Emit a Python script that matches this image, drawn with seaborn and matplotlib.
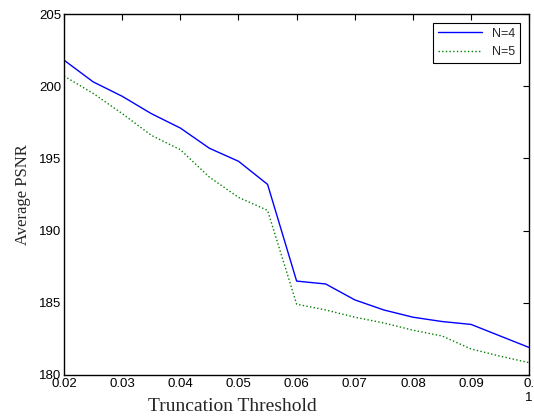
import numpy as np
import pandas as pd
import matplotlib
matplotlib.use("Agg")
import matplotlib.pyplot as plt
import seaborn as sns

# truncation thresholds and average PSNR
thresholds = [0.02, 0.025, 0.03, 0.035, 0.04, 0.045, 0.05, 0.055, 0.06,
              0.065, 0.07, 0.075, 0.08, 0.085, 0.09, 0.095, 0.1]
psnr_n4 = [201.8, 200.3, 199.3, 198.1, 197.1, 195.7, 194.8, 193.2, 186.5,
           186.3, 185.2, 184.5, 184.0, 183.7, 183.5, 182.7, 181.9]
psnr_n5 = [200.7, 199.5, 198.1, 196.6, 195.6, 193.7, 192.3, 191.4, 184.9,
           184.5, 184.0, 183.6, 183.1, 182.7, 181.8, 181.3, 180.85]
x_ticks = [0.02, 0.03, 0.04, 0.05, 0.06, 0.07, 0.08, 0.09, 0.1]
x_tick_labels = ["0.02", "0.03", "0.04", "0.05", "0.06", "0.07", "0.08", "0.09", "0.\n1"]
y_ticks = [180, 185, 190, 195, 200, 205]

sns.set_style("white")
plt.rcParams['font.family'] = ['Liberation Sans', 'DejaVu Sans']

fig = plt.figure(figsize=(5.34, 4.18), dpi=100)
ax = fig.add_axes([0.12, 0.103, 0.871, 0.8635])

sns.lineplot(x=thresholds, y=psnr_n4, ax=ax, color='#0000ff', linewidth=1.0,
             label='N=4')
sns.lineplot(x=thresholds, y=psnr_n5, ax=ax, color='#008000', linewidth=1.0,
             linestyle=':', label='N=5')

ax.set_xlim(0.02, 0.1)
ax.set_ylim(180, 205)
ax.set_xticks(x_ticks)
ax.set_xticklabels(x_tick_labels)
ax.set_yticks(y_ticks)
ax.tick_params(direction='in', length=4, width=0.8, labelsize=9.5, colors='black',
               top=True, right=True, pad=2)
for sp in ax.spines.values():
    sp.set_color('black')
    sp.set_linewidth(1.0)

# matlab put the x label left of centre, close to the bottom edge
ax.set_xlabel('Truncation Threshold', family=['Liberation Serif'], fontsize=14,
              va='center')
ax.xaxis.set_label_coords(0.361, -0.088)
ax.set_ylabel('Average PSNR', family=['Liberation Serif'], fontsize=12, labelpad=6)

leg = ax.legend(loc='upper right', fontsize=9, frameon=True, fancybox=False,
                edgecolor='black', framealpha=1, handlelength=3.5,
                borderaxespad=0.7)
leg.get_frame().set_linewidth(0.8)

fig.savefig('out.png', dpi=100)
